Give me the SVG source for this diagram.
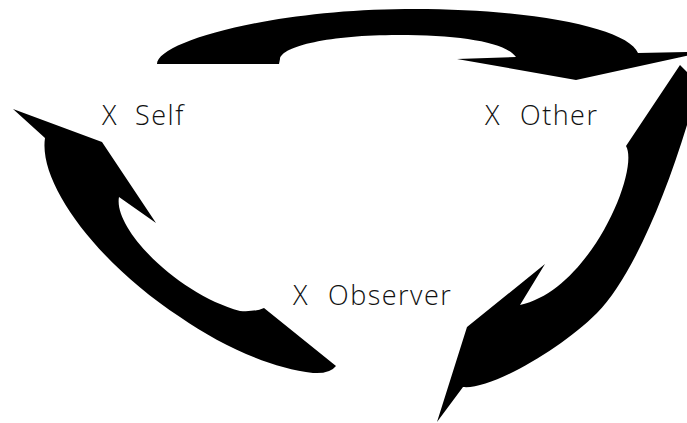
<svg xmlns="http://www.w3.org/2000/svg" width="687" height="423" viewBox="0 0 687 423">
<style>
.arrow{fill:#000;stroke:none}
.lbl{font-family:"Open Sans","DejaVu Sans",sans-serif;font-size:27px;font-weight:300;letter-spacing:1.5px;fill:#111}
</style>
<rect width="687" height="423" fill="#fff"/>
<g id="connectors">
<path id="arrow-self-other" class="arrow" d="M157,64 C157,42 270,10 405,9 C530,8 628,28 638,53 L690,52 L690,55 L576,80 L457,59 L516,57 C505,42 460,35 398,35 C330,35 282,46 280,59 L279,64 Z"/>
<path id="arrow-other-observer" class="arrow" d="M680,65 L626,146 C640,170 590,290 520,305 L545,264 L467,327 L437,422 L463,387 C490,390 560,350 597,313 C630,280 665,200 690,115 L700,85 Z"/>
<path id="arrow-observer-self" class="arrow" d="M13,109 L102,142 L156,223 L119,197 C113,230 180,295 240,311 Q255,312 264,308 L336,366 Q330,374 313,373 C270,368 220,345 180,317 C100,265 38,185 45,138 Z"/>
</g>
<g id="node-self"><text class="lbl" x="102" y="125">X <tspan x="135">Self</tspan></text></g>
<g id="node-other"><text class="lbl" x="485" y="125">X <tspan x="520">Other</tspan></text></g>
<g id="node-observer"><text class="lbl" x="293" y="305">X <tspan x="328">Observer</tspan></text></g>
</svg>
